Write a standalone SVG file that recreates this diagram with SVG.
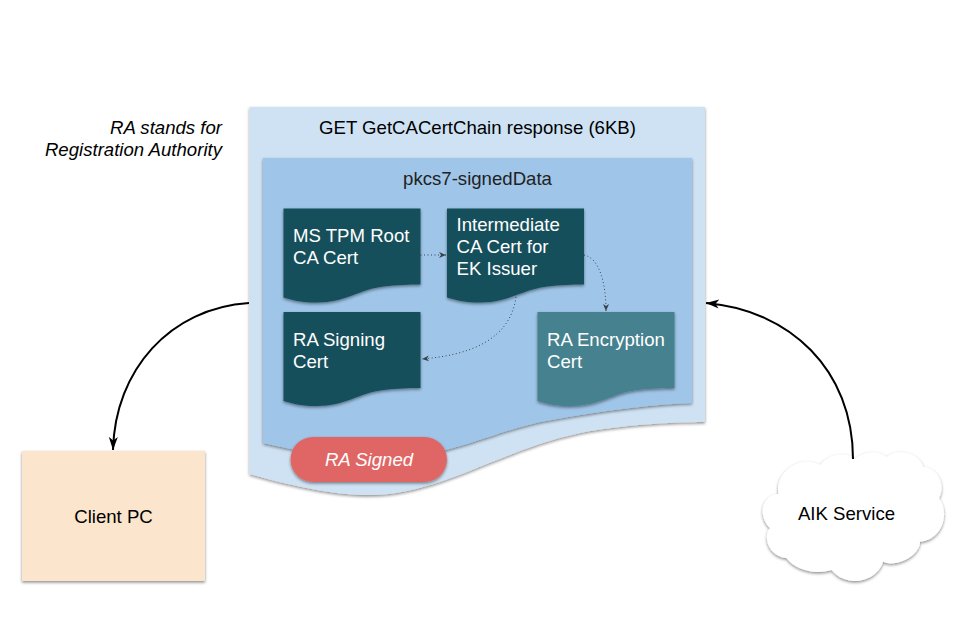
<svg xmlns="http://www.w3.org/2000/svg" width="955" height="623" viewBox="0 0 955 623">
<style>
text{font-family:"Liberation Sans",Arial,sans-serif;font-size:18.6px;fill:#000}
.s{filter:url(#sh)}
.w{fill:#fff}
.doc{fill:#134f5c}
.m{text-anchor:middle}
.i{font-style:italic}
.e{text-anchor:end}
.c{fill:none;stroke:#000;stroke-width:2}
.d{fill:none;stroke:#222;stroke-width:1;stroke-dasharray:1 2.500;opacity:.8}
</style>
<defs>
<filter id="sh" x="-10%" y="-10%" width="120%" height="120%"><feDropShadow dx="0" dy="1.500" stdDeviation="1.500" flood-color="#000" flood-opacity="0.450"/></filter>
<marker id="a" markerUnits="userSpaceOnUse" markerWidth="16" markerHeight="14" refX="13" refY="6" orient="auto"><path d="M0,1.500 L13,6 L0,10.500 L3.500,6 Z" fill="#000"/></marker>
<marker id="b" markerUnits="userSpaceOnUse" markerWidth="9" markerHeight="9" refX="7" refY="3.500" orient="auto"><path d="M0,0.500 L7,3.500 L0,6.500 L2,3.500 Z" fill="#222"/></marker>
<path id="dd" d="M0,0 H137 V76 C125,76 112,76.500 100,78 C75,81 62,94 33,94 C20,94 10,92 0,89 Z"/>
</defs>
<g id="outer-doc">
<path class="s" fill="#cfe2f3" d="M249.500,107 H705 V422 C670,422 620,425 580,433 C500,450 440,495 370,495 C335,495 300,488 249.500,474 Z"/>
<text class="m" x="477.500" y="134">GET GetCACertChain response (6KB)</text>
</g>
<g id="inner-doc">
<path class="s" fill="#9fc5e8" d="M263,158 H692 V403 C660,404 610,409 540,422 C500,431 470,446 420,456 C370,462 310,454 263,443 Z"/>
<text class="m" x="477.500" y="185" style="fill:#222">pkcs7-signedData</text>
</g>
<g id="note"><text class="e i" x="222" y="134">RA stands for</text><text class="e i" x="222" y="156">Registration Authority</text></g>
<g id="root-cert"><use class="doc s" href="#dd" x="283.500" y="208.500"/><text class="w" x="293" y="242">MS TPM Root</text><text class="w" x="293" y="264">CA Cert</text></g>
<g id="intermediate-cert"><use class="doc s" href="#dd" x="447" y="208.500"/><text class="w" x="456.500" y="231">Intermediate</text><text class="w" x="456.500" y="253">CA Cert for</text><text class="w" x="456.500" y="275">EK Issuer</text></g>
<g id="signing-cert"><use class="doc s" href="#dd" x="283.500" y="312"/><text class="w" x="293" y="346">RA Signing</text><text class="w" x="293" y="368">Cert</text></g>
<g id="encryption-cert"><use class="s" fill="#45818e" href="#dd" x="537.500" y="312"/><text class="w" x="547" y="346">RA Encryption</text><text class="w" x="547" y="368">Cert</text></g>
<g id="ra-signed"><rect class="s" x="290.500" y="437" width="156.500" height="45" rx="22.500" fill="#e06666"/><text class="w m i" x="369" y="466">RA Signed</text></g>
<g id="client-pc"><rect class="s" x="22" y="451" width="183" height="130" fill="#fce5cd"/><text class="m" x="113.500" y="523">Client PC</text></g>
<g id="aik-service"><path class="s" fill="#fff" d="M855,459.300 C862,451 880,450 886.700,457.300 C893,449 918,450 923.300,466.700 C938,468 946,485 939,498.300 C950,512 943,540 920,541.700 C920,556 895,568 883.300,561.700 C875,584 845,587 831.700,570 C815,575 795,570 786.700,558.300 C767,556 763,535 770,528.300 C757,515 762,495 778.300,494 C775,472 800,454 820,465 C830,452 850,452 855,459.300 Z"/><text class="m" x="846.500" y="520">AIK Service</text></g>
<g id="connectors">
<path class="c" marker-end="url(#a)" d="M249,303 C170,308 115,370 113,450"/>
<path class="c" marker-end="url(#a)" d="M853,459 C853,370 790,310 706,303"/>
<path class="d" marker-end="url(#b)" d="M420.500,255 H446"/>
<path class="d" marker-end="url(#b)" d="M584,255 C600,258 606,285 606,311"/>
<path class="d" marker-end="url(#b)" d="M516,297 C510,340 470,355 422,359"/>
</g>
</svg>
